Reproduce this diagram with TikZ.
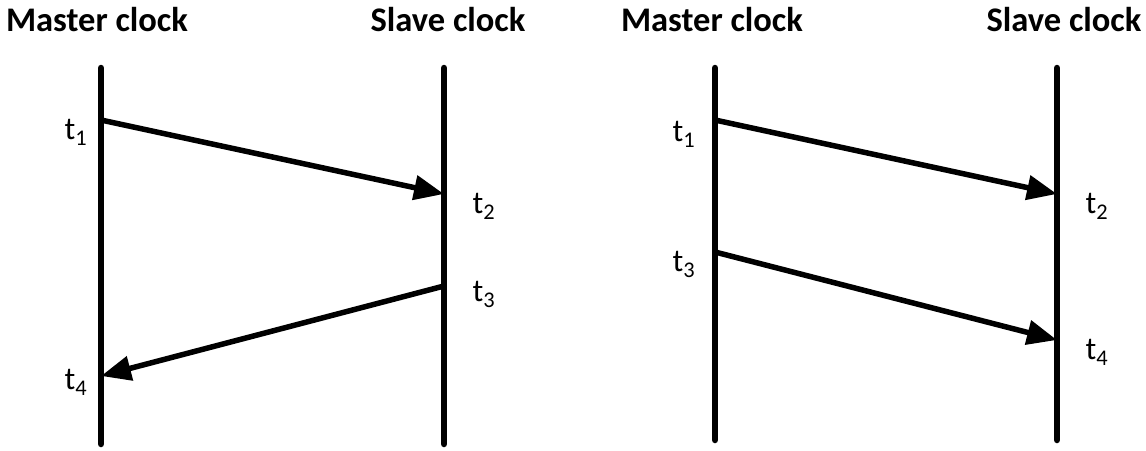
\documentclass[tikz,border=0pt]{standalone}
\usepackage{fontspec}
\setmainfont{Carlito}
\usetikzlibrary{arrows.meta}
\begin{document}
\begin{tikzpicture}[x=1pt,y=-1pt,
  timeline/.style={line width=6.5pt,line cap=round},
  msg/.style={line width=5.5pt,-{Triangle[length=30pt,width=24pt]}},
  head/.style={font=\bfseries\fontsize{34.5}{38}\selectfont,inner sep=0pt},
  tlab/.style={font=\fontsize{32}{36}\selectfont,inner sep=0pt}]
\useasboundingbox (0,0) rectangle (1146,450);
% left diagram
\node[head] (hm1) at (97,20) {Master clock};
\node[head] (hs1) at (448,20) {Slave clock};
\coordinate (m1top) at (101,68);
\coordinate (m1bot) at (101,444);
\coordinate (s1top) at (444,68);
\coordinate (s1bot) at (444,444);
\draw[timeline] (m1top) -- (m1bot);
\draw[timeline] (s1top) -- (s1bot);
\coordinate (a1) at (101,120);
\coordinate (a2) at (444,194);
\coordinate (a3) at (444,286);
\coordinate (a4) at (101,376);
\draw[msg] (a1) -- (a2);
\draw[msg] (a3) -- (a4);
\node[tlab] (l1) at (76,132) {t\textsubscript{1}};
\node[tlab] (l2) at (484,206) {t\textsubscript{2}};
\node[tlab] (l3) at (484,294) {t\textsubscript{3}};
\node[tlab] (l4) at (76,382) {t\textsubscript{4}};
% right diagram
\node[head] (hm2) at (712,20) {Master clock};
\node[head] (hs2) at (1064,20) {Slave clock};
\coordinate (m2top) at (715,68);
\coordinate (m2bot) at (715,440);
\coordinate (s2top) at (1057,68);
\coordinate (s2bot) at (1057,440);
\draw[timeline] (m2top) -- (m2bot);
\draw[timeline] (s2top) -- (s2bot);
\coordinate (b1) at (715,120);
\coordinate (b2) at (1057,194);
\coordinate (b3) at (715,252);
\coordinate (b4) at (1057,340);
\draw[msg] (b1) -- (b2);
\draw[msg] (b3) -- (b4);
\node[tlab] (r1) at (684,134) {t\textsubscript{1}};
\node[tlab] (r2) at (1097,206) {t\textsubscript{2}};
\node[tlab] (r3) at (684,264) {t\textsubscript{3}};
\node[tlab] (r4) at (1097,352) {t\textsubscript{4}};
\end{tikzpicture}
\end{document}
